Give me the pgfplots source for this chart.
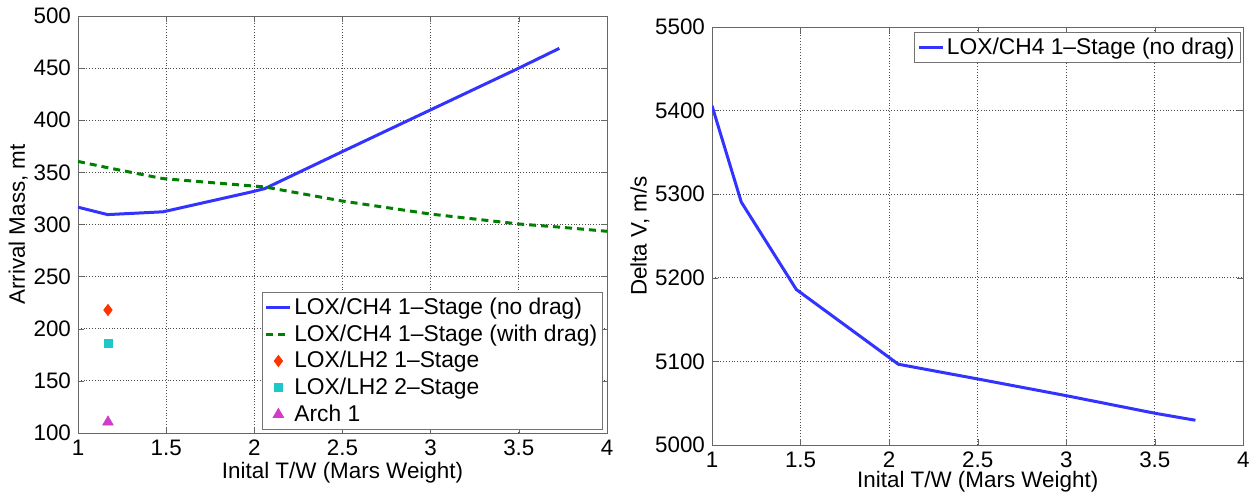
\documentclass[border=0pt]{standalone}
\usepackage{fontspec}
\setmainfont{Liberation Sans}
\usepackage{pgfplots}
\pgfplotsset{compat=1.18}
\definecolor{cblue}{RGB}{51,51,255}
\definecolor{cgreen}{RGB}{0,128,0}
\definecolor{cred}{RGB}{255,51,0}
\definecolor{ccyan}{RGB}{30,200,200}
\definecolor{cmag}{RGB}{210,60,200}
\pgfplotsset{
  mstyle/.style={
    scale only axis,
    font=\fontsize{11}{13}\selectfont,
    tick label style={font=\fontsize{11.2}{13}\selectfont},
    label style={font=\fontsize{11.2}{13}\selectfont},
    /pgf/number format/assume math mode=true,
    /pgf/number format/1000 sep={},
    scaled ticks=false,
    xmin=1, xmax=4,
    xtick={1,1.5,2,2.5,3,3.5,4},
    xticklabels={1,1.5,2,2.5,3,3.5,4},
    grid=major,
    grid style={densely dotted, black!70, line width=0.4pt},
    axis line style={black!60},
    tick style={black!60},
    major tick length=3pt,
    tick align=inside,
    legend cell align=left,
    legend style={draw=black!55, fill=white, font=\fontsize{11.4}{13.5}\selectfont,
      row sep=1.2pt, inner sep=1.5pt, nodes={inner sep=1.2pt}},
    legend image code/.code={\draw[mark repeat=2,mark phase=2,#1] plot coordinates {(0pt,0pt) (6pt,0pt) (12pt,0pt)};},
  }
}
\begin{document}
\begin{tikzpicture}[x=1pt,y=1pt]
\path[use as bounding box] (0,0) rectangle (628,246.5);
\begin{axis}[mstyle,
  at={(39pt,30pt)}, anchor=south west,
  width=264.5pt, height=208.5pt,
  ymin=100, ymax=500,
  ytick={100,150,200,250,300,350,400,450,500},
  xlabel={Inital T/W (Mars Weight)},
  ylabel={Arrival Mass, mt},
  xlabel style={yshift=3.5pt},
  ylabel style={yshift=-4pt},
  legend style={at={(axis description cs:1,0)}, anchor=south east, xshift=-2pt, yshift=1.5pt},
]
\addplot[cblue, line width=1.5pt] coordinates {
 (1.0,316.6) (1.168,309.5) (1.483,312.2) (1.99,331.5) (2.06,334.5) (2.5,370) (3.0,410) (3.5,450) (3.73,469)
};
\addlegendentry{LOX/CH4 1--Stage (no drag)}
\addplot[cgreen, line width=1.5pt, dash pattern=on 3.5pt off 2.5pt] coordinates {
 (1.0,360.5) (1.168,354.5) (1.483,344) (2.06,336) (2.5,322.5) (3.0,310) (3.5,300.5) (3.73,297.5) (4.0,293.5)
};
\addlegendentry{LOX/CH4 1--Stage (with drag)}
\addplot[only marks, mark=diamond*, mark size=2.8pt, color=cred, fill=cred] coordinates {(1.17,218)};
\addlegendentry{LOX/LH2 1--Stage}
\addplot[only marks, mark=square*, mark size=2pt, color=ccyan, fill=ccyan] coordinates {(1.17,186)};
\addlegendentry{LOX/LH2 2--Stage}
\addplot[only marks, mark=triangle*, mark size=3pt, color=cmag, fill=cmag] coordinates {(1.17,110.5)};
\addlegendentry{Arch 1}
\end{axis}
\begin{axis}[mstyle,
  at={(356pt,24pt)}, anchor=south west,
  width=265.7pt, height=209pt,
  ymin=5000, ymax=5500,
  ytick={5000,5100,5200,5300,5400,5500},
  xlabel={Inital T/W (Mars Weight)},
  ylabel={Delta V, m/s},
  xlabel style={yshift=5pt},
  ylabel style={yshift=-4pt},
  legend style={at={(axis description cs:1,1)}, anchor=north east, xshift=-1.5pt, yshift=-2.5pt},
]
\addplot[cblue, line width=1.5pt] coordinates {
 (1.0,5405.8) (1.165,5290.7) (1.476,5186) (2.052,5096.6) (2.5,5079) (3.0,5059) (3.5,5038) (3.729,5029.6)
};
\addlegendentry{LOX/CH4 1--Stage (no drag)}
\end{axis}
\end{tikzpicture}
\end{document}
